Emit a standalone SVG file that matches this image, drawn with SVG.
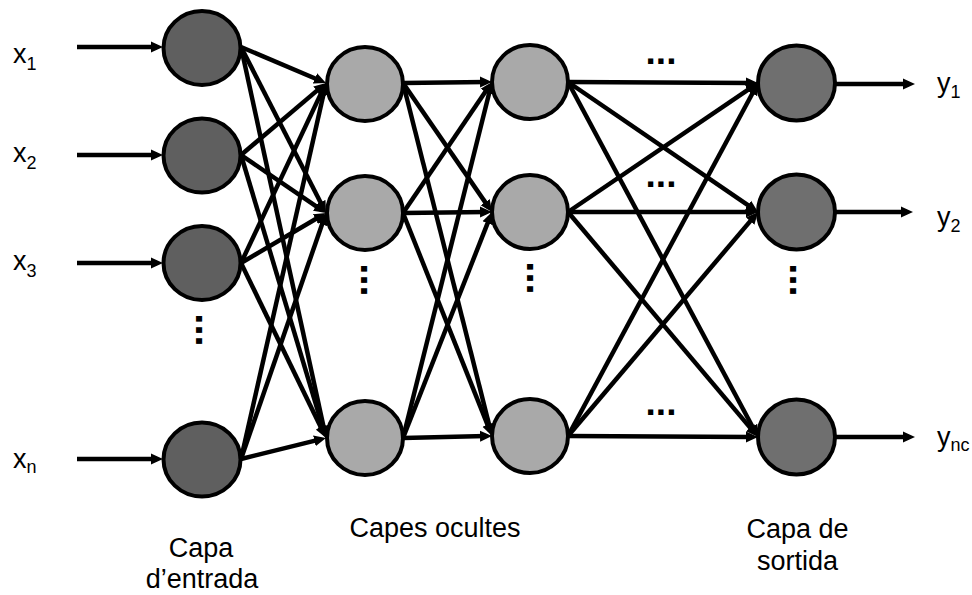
<svg xmlns="http://www.w3.org/2000/svg" width="972" height="595" viewBox="0 0 972 595">
<style>
.n{stroke:#000;stroke-width:4}
.in{fill:#5f5f5f}
.hid{fill:#a9a9a9}
.out{fill:#6f6f6f}
.c line{stroke:#000;stroke-width:4.5;marker-end:url(#ah)}
.t{font-family:"Liberation Sans",Arial,sans-serif;fill:#000}
.lab{font-size:27px;text-anchor:middle}
.v{font-size:27px}
.dots{font-family:"Liberation Sans",Arial,sans-serif;font-weight:bold;font-size:37px;text-anchor:middle}
.vd{font-size:40px}
</style>
<defs>
<marker id="ah" markerUnits="userSpaceOnUse" markerWidth="12" markerHeight="12" viewBox="0 0 12 12" refX="6" refY="6" orient="auto">
<path d="M0,0.5 L12,6 L0,11.5 z" fill="#000"/>
</marker>
</defs>
<rect width="972" height="595" fill="#fff"/>

<g id="input-layer">
<g id="in1"><ellipse class="n in" cx="202" cy="48" rx="38.5" ry="37"/></g>
<g id="in2"><ellipse class="n in" cx="202" cy="155.5" rx="38.5" ry="37"/></g>
<g id="in3"><ellipse class="n in" cx="202" cy="263" rx="38.5" ry="37"/></g>
<g id="inN"><ellipse class="n in" cx="202" cy="459.5" rx="38.5" ry="37"/></g>
</g>
<g id="hidden-layer-1">
<g id="h1a"><ellipse class="n hid" cx="365" cy="84" rx="38" ry="37"/></g>
<g id="h1b"><ellipse class="n hid" cx="365" cy="213" rx="38" ry="37"/></g>
<g id="h1c"><ellipse class="n hid" cx="365" cy="438" rx="38" ry="37"/></g>
</g>
<g id="hidden-layer-2">
<g id="h2a"><ellipse class="n hid" cx="530" cy="82" rx="38" ry="37"/></g>
<g id="h2b"><ellipse class="n hid" cx="530" cy="212" rx="38" ry="37"/></g>
<g id="h2c"><ellipse class="n hid" cx="530" cy="436" rx="38" ry="37"/></g>
</g>
<g id="output-layer">
<g id="o1"><ellipse class="n out" cx="796.5" cy="83" rx="38.5" ry="37.5"/></g>
<g id="o2"><ellipse class="n out" cx="796.5" cy="212" rx="38.5" ry="37.5"/></g>
<g id="oN"><ellipse class="n out" cx="796.5" cy="437" rx="38.5" ry="37.5"/></g>
</g>

<g id="connectors" class="c">
<line x1="77" y1="47" x2="157" y2="47"/>
<line x1="77" y1="155" x2="157" y2="155"/>
<line x1="77" y1="263" x2="157" y2="263"/>
<line x1="77" y1="459" x2="157" y2="459"/>

<line x1="241" y1="47" x2="320.5" y2="80.7"/>
<line x1="241" y1="47" x2="323.3" y2="207.7"/>
<line x1="241" y1="47" x2="324.7" y2="432.1"/>
<line x1="241" y1="155" x2="321.4" y2="86.9"/>
<line x1="241" y1="155" x2="321.0" y2="209.6"/>
<line x1="241" y1="155" x2="324.3" y2="432.3"/>
<line x1="241" y1="263" x2="323.4" y2="88.4"/>
<line x1="241" y1="263" x2="320.8" y2="216.0"/>
<line x1="241" y1="263" x2="323.4" y2="432.6"/>
<line x1="241" y1="459" x2="324.7" y2="88.9"/>
<line x1="241" y1="459" x2="324.0" y2="218.7"/>
<line x1="241" y1="459" x2="320.2" y2="439.4"/>

<line x1="403" y1="83" x2="486" y2="82"/>
<line x1="403" y1="83" x2="488.6" y2="207.1"/>
<line x1="403" y1="83" x2="490.5" y2="430.2"/>
<line x1="403" y1="213" x2="488.6" y2="87.0"/>
<line x1="403" y1="213" x2="486" y2="212"/>
<line x1="403" y1="213" x2="489.8" y2="430.4"/>
<line x1="403" y1="438" x2="490.5" y2="87.8"/>
<line x1="403" y1="438" x2="489.8" y2="217.6"/>
<line x1="403" y1="438" x2="486" y2="436.1"/>

<line x1="568" y1="82" x2="752" y2="83"/>
<line x1="568" y1="82" x2="753.0" y2="208.6"/>
<line x1="568" y1="82" x2="755.2" y2="431.7"/>
<line x1="568" y1="212" x2="753.0" y2="86.4"/>
<line x1="568" y1="212" x2="752" y2="212"/>
<line x1="568" y1="212" x2="754.1" y2="432.4"/>
<line x1="568" y1="436" x2="755.2" y2="88.3"/>
<line x1="568" y1="436" x2="754.1" y2="216.6"/>
<line x1="568" y1="436" x2="752" y2="437"/>

<line x1="835" y1="84" x2="909" y2="84"/>
<line x1="835" y1="212" x2="907" y2="212"/>
<line x1="835" y1="437" x2="909" y2="437"/>
</g>

<g id="ellipses">
<text class="dots" x="661" y="63.6">...</text>
<text class="dots" x="661" y="186.6">...</text>
<text class="dots" x="661" y="415">...</text>
<text class="dots vd" transform="translate(195.7,330) rotate(90)">...</text>
<text class="dots vd" transform="translate(361.3,280) rotate(90)">...</text>
<text class="dots vd" transform="translate(527.3,278) rotate(90)">...</text>
<text class="dots vd" transform="translate(790.3,280) rotate(90)">...</text>
</g>

<g id="labels" class="t">
<text class="v" x="13" y="63">x<tspan font-size="18" dy="7">1</tspan></text>
<text class="v" x="13" y="162">x<tspan font-size="18" dy="7">2</tspan></text>
<text class="v" x="13" y="270">x<tspan font-size="18" dy="7">3</tspan></text>
<text class="v" x="13" y="468">x<tspan font-size="18" dy="5">n</tspan></text>
<text class="v" x="937" y="92">y<tspan font-size="18" dy="6">1</tspan></text>
<text class="v" x="937" y="226">y<tspan font-size="18" dy="6">2</tspan></text>
<text class="v" x="937" y="446">y<tspan font-size="18" dy="5">nc</tspan></text>
<text class="lab" x="201" y="557">Capa</text>
<text class="lab" x="202" y="588">d’entrada</text>
<text class="lab" x="435" y="537">Capes ocultes</text>
<text class="lab" x="797.5" y="538">Capa de</text>
<text class="lab" x="797.5" y="570">sortida</text>
</g>
</svg>
